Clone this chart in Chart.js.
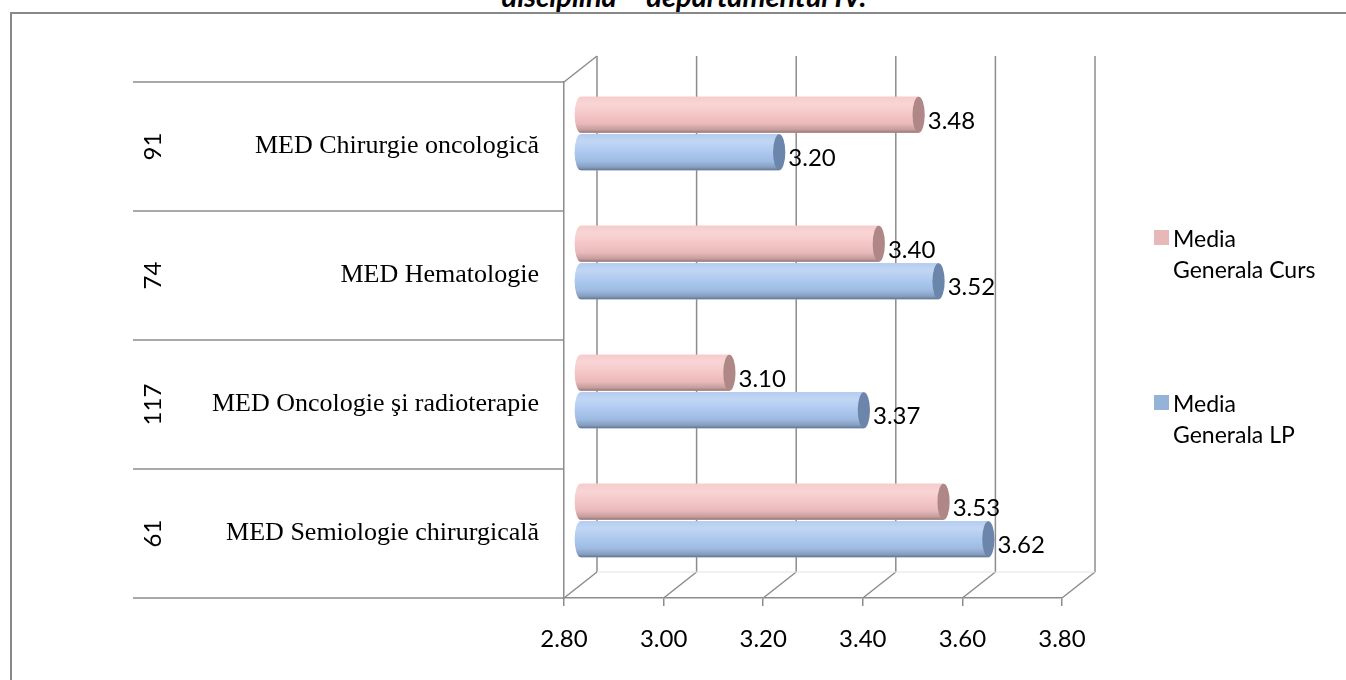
<!DOCTYPE html>
<html>
<head>
<meta charset="utf-8">
<script src="https://cdn.jsdelivr.net/npm/chart.js@4.4.0/dist/chart.umd.min.js"></script>
<style>
  html, body { margin: 0; padding: 0; background: #fff; overflow: hidden; }
  #wrap { position: relative; width: 1346px; height: 680px; }
  #frame { position: absolute; left: 10px; top: 12px; width: 1400px; height: 700px;
           border-left: 2px solid #888; border-top: 2px solid #888; }
  #title { position: absolute; left: 334px; width: 700px; top: -22px; text-align: center;
           font: italic bold 29px Lato, sans-serif; white-space: nowrap; }
  canvas { position: absolute; left: 0; top: 0; }
  .leg { position: absolute; left: 1154px; font: 23px Lato, sans-serif; line-height: 31px; color: #000; }
  .leg i { position: absolute; left: 0; top: 7px; width: 15px; height: 15px; }
  .leg span { display: block; margin-left: 19px; }
</style>
</head>
<body>
<div id="wrap">
  <div id="title">disciplină – departamentul IV.</div>
  <div id="frame"></div>
  <canvas id="chart" width="1346" height="680"></canvas>
  <div class="leg" style="top:223px"><i style="background:#e6b9b8"></i><span>Media<br>Generala Curs</span></div>
  <div class="leg" style="top:388px"><i style="background:#95b3d7"></i><span>Media<br>Generala LP</span></div>
</div>
<script>
const categories = ["MED Chirurgie oncologică", "MED Hematologie", "MED Oncologie şi radioterapie", "MED Semiologie chirurgicală"];
const studentCounts = ["91", "74", "117", "61"];
const mediaCurs = [3.48, 3.40, 3.10, 3.53];
const mediaLP = [3.20, 3.52, 3.37, 3.62];
const xTicks = [2.8, 3.0, 3.2, 3.4, 3.6, 3.8];

// depth of the fake 3D box
const BX = 33, BY = -26;   // back wall
const DX = 16, DY = -13;   // bars sit half way in
const GRID = "#8c8c8c";

const shades = [
  { base: "#f5c3c3", cap: "#b08787" },
  { base: "#a7c5ee", cap: "#6c85aa" }
];

function line(ctx, x1, y1, x2, y2) {
  ctx.beginPath();
  ctx.moveTo(x1, y1);
  ctx.lineTo(x2, y2);
  ctx.stroke();
}

const box3d = {
  id: "box3d",
  beforeDatasetsDraw(chart) {
    const ctx = chart.ctx, a = chart.chartArea;
    const x = chart.scales.x, y = chart.scales.y;
    ctx.save();
    ctx.strokeStyle = GRID;
    ctx.lineWidth = 1.5;
    // back wall + floor
    xTicks.forEach(v => {
      const px = x.getPixelForValue(v);
      line(ctx, px, a.bottom, px + BX, a.bottom + BY);
      line(ctx, px + BX, a.bottom + BY, px + BX, a.top + BY);
    });
    line(ctx, a.left, a.top, a.left + BX, a.top + BY);
    ctx.strokeStyle = "#e4e4e4";
    ctx.lineWidth = 1;
    line(ctx, a.left + BX, a.bottom + BY, x.getPixelForValue(3.8) + BX, a.bottom + BY);
    // category bands on the left
    ctx.strokeStyle = GRID;
    ctx.lineWidth = 1.5;
    for (let i = 0; i <= categories.length; i++) {
      const py = y.getPixelForValue(i - 0.5);
      line(ctx, y.left, py, a.left, py);
    }
    // student counts, rotated
    ctx.fillStyle = "#000";
    ctx.font = "24px Lato";
    ctx.textAlign = "center";
    ctx.textBaseline = "middle";
    studentCounts.forEach((n, i) => {
      ctx.save();
      ctx.translate(153, y.getPixelForValue(i));
      ctx.rotate(-Math.PI / 2);
      ctx.fillText(n, 0, 0);
      ctx.restore();
    });
    ctx.restore();

    ctx.save();
    ctx.translate(DX, DY);
  },
  afterDatasetsDraw(chart) {
    const ctx = chart.ctx;
    chart.data.datasets.forEach((ds, di) => {
      const meta = chart.getDatasetMeta(di);
      const sh = shades[di];
      meta.data.forEach((bar, i) => {
        const p = bar.getProps(["x", "y", "base", "height"], true);
        const h = p.height, top = p.y - h / 2, left = Math.min(p.x, p.base), right = Math.max(p.x, p.base);
        const rx = h * 0.17;
        const body = new Path2D();
        body.moveTo(right, top);
        body.lineTo(left, top);
        body.ellipse(left, p.y, rx, h / 2, 0, -Math.PI / 2, Math.PI / 2, true);
        body.lineTo(right, top + h);
        body.closePath();
        ctx.fillStyle = sh.base;
        ctx.fill(body);
        const g = ctx.createLinearGradient(0, top, 0, top + h);
        g.addColorStop(0, "rgba(255,255,255,0.15)");
        g.addColorStop(0.2, "rgba(255,255,255,0.3)");
        g.addColorStop(0.5, "rgba(255,255,255,0.05)");
        g.addColorStop(0.75, "rgba(0,0,0,0.05)");
        g.addColorStop(0.92, "rgba(0,0,0,0.2)");
        g.addColorStop(1, "rgba(0,0,0,0.4)");
        ctx.fillStyle = g;
        ctx.fill(body);
        // end cap
        ctx.beginPath();
        ctx.ellipse(right, p.y, rx, h / 2, 0, 0, Math.PI * 2);
        ctx.fillStyle = sh.cap;
        ctx.fill();
        // value label
        ctx.fillStyle = "#000";
        ctx.font = "24px Lato";
        ctx.textAlign = "left";
        ctx.textBaseline = "middle";
        ctx.fillText(ds.data[i].toFixed(2), right + rx + 3, p.y + 6);
      });
    });
    ctx.restore();
  }
};

new Chart(document.getElementById("chart"), {
  type: "bar",
  data: {
    labels: categories,
    datasets: [
      { label: "Media Generala Curs", data: mediaCurs, backgroundColor: shades[0].base, base: 2.8 },
      { label: "Media Generala LP", data: mediaLP, backgroundColor: shades[1].base, base: 2.8 }
    ]
  },
  options: {
    indexAxis: "y",
    responsive: false,
    animation: false,
    devicePixelRatio: 1,
    categoryPercentage: 0.58,
    barPercentage: 0.96,
    layout: { padding: { left: 133, right: 284, top: 82, bottom: 0 } },
    plugins: { legend: { display: false }, tooltip: { enabled: false } },
    scales: {
      x: {
        min: 2.8,
        max: 3.8,
        afterBuildTicks: s => { s.ticks = xTicks.map(v => ({ value: v })); },
        afterFit: s => { s.height = 82; },
        ticks: { color: "#000", font: { family: "Lato", size: 24 }, padding: 19, callback: v => v.toFixed(2) },
        grid: { drawOnChartArea: false, drawTicks: true, tickLength: 8, color: GRID, lineWidth: 1.5 },
        border: { display: true, color: GRID, width: 1.5 }
      },
      y: {
        afterFit: s => { s.width = 431; },
        ticks: { color: "#000", font: { family: "Liberation Serif", size: 26 }, padding: 17 },
        grid: { display: false },
        border: { display: true, color: GRID, width: 1.5 }
      }
    }
  },
  plugins: [box3d]
});
</script>
</body>
</html>
